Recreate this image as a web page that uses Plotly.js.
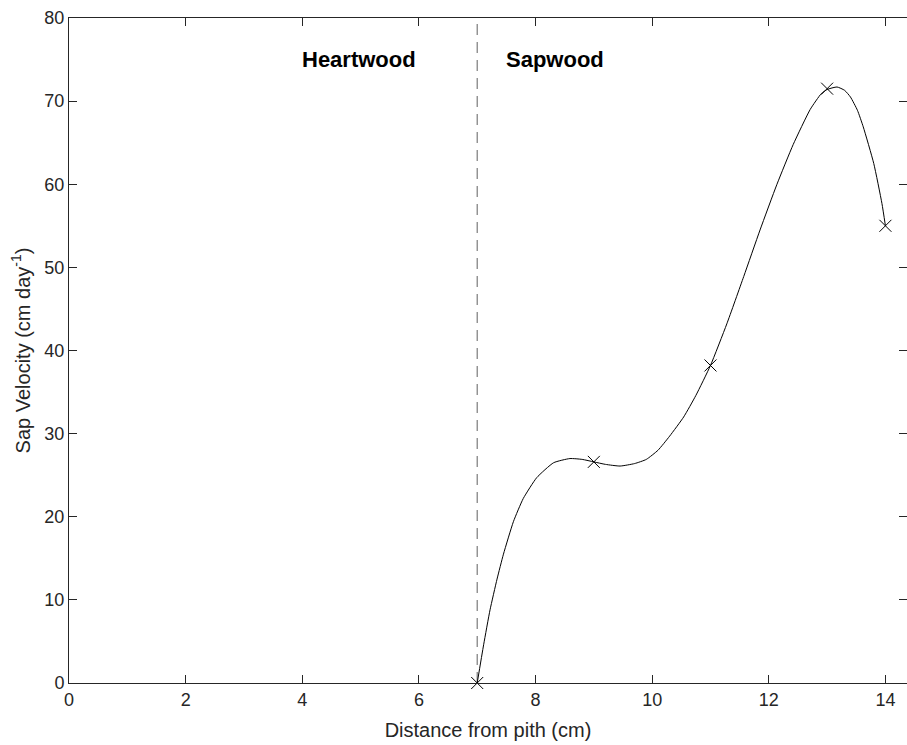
<!DOCTYPE html>
<html>
<head>
<meta charset="utf-8">
<script src="https://cdn.plot.ly/plotly-3.0.1.min.js"></script>
<style>html,body{margin:0;padding:0;background:#fff;}#chart{width:907px;height:745px;}</style>
</head>
<body>
<div id="chart"></div>
<script>
// Measured points
const pointX = [7, 9, 11, 13, 14];
const pointY = [0, 26.6, 38.2, 71.5, 55.0];

// Fitted curve
const curveX = [7.00, 7.11, 7.22, 7.34, 7.45, 7.62, 7.79, 8.02, 8.31, 8.59, 8.80, 9.00, 9.20, 9.45, 9.70, 9.90, 10.10, 10.30, 10.54, 10.75, 11.00, 11.28, 11.57, 11.85, 12.14, 12.42, 12.71, 12.90, 13.00, 13.17, 13.30, 13.40, 13.52, 13.62, 13.80, 13.94, 14.00];
const curveY = [0, 4.6, 8.8, 12.5, 15.5, 19.4, 22.2, 24.7, 26.5, 27.0, 26.9, 26.6, 26.3, 26.1, 26.4, 26.9, 28.0, 29.7, 32.0, 34.6, 38.2, 43.2, 48.9, 54.5, 60.0, 64.8, 69.0, 70.9, 71.4, 71.7, 71.3, 70.5, 68.9, 66.9, 62.5, 57.7, 55.0];

// Heartwood / sapwood boundary
const boundaryX = [7, 7];
const boundaryY = [0, 80];

const labelText = ["Heartwood", "Sapwood"];
const labelX = [4, 7.5];
const labelY = [75, 75];

const xTicks = [0, 2, 4, 6, 8, 10, 12, 14];
const yTicks = [0, 10, 20, 30, 40, 50, 60, 70, 80];

const axisColor = '#262626';
const fam = 'Liberation Sans, Arial, Helvetica, sans-serif';
const tickFont = {family: fam, size: 18, color: axisColor};
const titleFont = {family: fam, size: 20, color: axisColor};

const traces = [
  {x: boundaryX, y: boundaryY, mode: 'lines', line: {color: '#7a7a7a', width: 1.2, dash: '11px,7px'}, hoverinfo: 'skip'},
  {x: curveX, y: curveY, mode: 'lines', line: {color: '#000', width: 1, shape: 'spline', smoothing: 0.5}, hoverinfo: 'skip'},
  {x: pointX, y: pointY, mode: 'markers', marker: {symbol: 'x-thin-open', size: 12, color: '#000', line: {color: '#000', width: 1}}, cliponaxis: false}
];

const annotations = labelText.map((t, i) => ({
  x: labelX[i], y: labelY[i], xref: 'x', yref: 'y', text: '<b>' + t + '</b>',
  showarrow: false, xanchor: 'left', yanchor: 'middle', xshift: -2,
  font: {family: fam, size: 22, color: '#000'}
}));

const layout = {
  width: 907, height: 745,
  margin: {l: 69, r: 0, t: 18, b: 62},
  paper_bgcolor: '#fff', plot_bgcolor: '#fff',
  showlegend: false, hovermode: false,
  font: tickFont,
  xaxis: {
    range: [0, 14.37], tickvals: xTicks, ticktext: xTicks.map(String),
    ticks: 'inside', ticklen: 8, tickcolor: axisColor, tickwidth: 1,
    showline: true, linecolor: axisColor, linewidth: 1, mirror: 'ticks',
    showgrid: false, zeroline: false, tickfont: tickFont,
    title: {text: 'Distance from pith (cm)', font: titleFont, standoff: 14}
  },
  yaxis: {
    range: [0, 80], tickvals: yTicks, ticktext: yTicks.map(String),
    ticks: 'inside', ticklen: 8, tickcolor: axisColor, tickwidth: 1,
    showline: true, linecolor: axisColor, linewidth: 1, mirror: 'ticks',
    showgrid: false, zeroline: false, tickfont: tickFont,
    title: {text: 'Sap Velocity (cm day<sup>-1</sup>)', font: titleFont, standoff: 8}
  },
  annotations: annotations
};

Plotly.newPlot('chart', traces, layout, {displayModeBar: false, staticPlot: true});
</script>
</body>
</html>
